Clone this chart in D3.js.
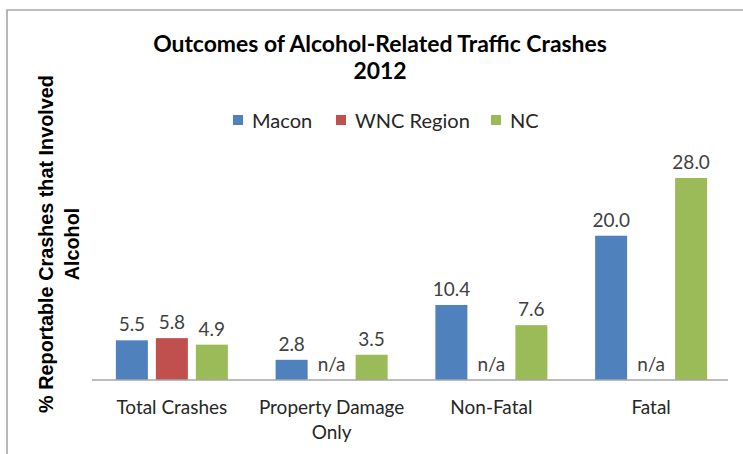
<!DOCTYPE html>
<html>
<head>
<meta charset="utf-8">
<script src="https://cdn.jsdelivr.net/npm/d3@7"></script>
<style>
  html, body { margin: 0; padding: 0; background: #fff; }
  svg { display: block; }
</style>
</head>
<body>
<svg id="chart" width="743" height="454"></svg>
<script>
// ---- data ----
const categories = ["Total Crashes", "Property Damage Only", "Non-Fatal", "Fatal"];
const seriesNames = ["Macon", "WNC Region", "NC"];
const macon = [5.5, 2.8, 10.4, 20.0];
const wncRegion = [5.8, null, null, null];
const nc = [4.9, 3.5, 7.6, 28.0];
const seriesColors = ["#4f81bd", "#c0504d", "#9bbb59"];
const titleLines = ["Outcomes of Alcohol-Related Traffic Crashes", "2012"];
const yTitleLines = ["% Reportable Crashes that Involved", "Alcohol"];
const naLabel = "n/a";

const seriesValues = [macon, wncRegion, nc];

const svg = d3.select("#chart");
const W = 743, H = 454;
const labelFont = "Lato, 'Open Sans', sans-serif";
const yTitleFont = "'Liberation Sans', Arial, sans-serif";

function fit(sel, target) {
  const w = sel.node().getComputedTextLength();
  const fs = parseFloat(sel.attr("font-size"));
  const nf = fs * target / w;
  sel.attr("font-size", nf);
  return nf;
}

// measure base sizes
const probe = svg.append("text").attr("font-family", labelFont).attr("font-size", 20).text("Total Crashes");
const labelSize = fit(probe, 111);
probe.text("WNC Region").attr("font-size", 20);
const legendSize = fit(probe, 115);
probe.remove();

// background + border
svg.append("rect").attr("x", 0).attr("y", 0).attr("width", W).attr("height", H).attr("fill", "#fff");
svg.append("path")
  .attr("d", `M7,${H} L7,10 L${W},10`)
  .attr("fill", "none").attr("stroke", "#a6a6a6").attr("stroke-width", 1.6);

// scales
const y0 = 380;
const y = d3.scaleLinear().domain([0, 30]).range([y0, y0 - 30 * (202 / 28)]);
const x = d3.scaleBand().domain(categories).range([92, 731]).paddingInner(0).paddingOuter(0);
const xs = d3.scaleBand().domain(seriesNames).range([-56, 56]).paddingInner(0.2);

// title
const t1 = svg.append("text")
  .attr("x", 380).attr("y", 52)
  .attr("text-anchor", "middle")
  .attr("font-family", labelFont).attr("font-weight", "bold")
  .attr("font-size", 22).attr("fill", "#000")
  .text(titleLines[0]);
const titleSize = fit(t1, 454);
svg.append("text")
  .attr("x", 380).attr("y", 79)
  .attr("text-anchor", "middle")
  .attr("font-family", labelFont).attr("font-weight", "bold")
  .attr("font-size", titleSize).attr("fill", "#000")
  .text(titleLines[1]);

// legend
const legendX = [233, 336, 491];
const legendG = svg.append("g");
seriesNames.forEach((name, i) => {
  legendG.append("rect")
    .attr("x", legendX[i]).attr("y", 115).attr("width", 10).attr("height", 10)
    .attr("fill", seriesColors[i]);
  legendG.append("text")
    .attr("x", legendX[i] + 19).attr("y", 128)
    .attr("font-family", labelFont).attr("font-size", legendSize)
    .attr("fill", "#262626")
    .text(name);
});

// y-axis title
const yt = svg.append("g");
const ytl1 = yt.append("text")
  .attr("transform", "translate(46,244) rotate(-90)")
  .attr("text-anchor", "middle").attr("dominant-baseline", "central")
  .attr("font-family", yTitleFont).attr("font-weight", "bold")
  .attr("font-size", 16).attr("fill", "#000")
  .text(yTitleLines[0]);
const ySize = fit(ytl1, 338);
yt.append("text")
  .attr("transform", "translate(72,244) rotate(-90)")
  .attr("text-anchor", "middle").attr("dominant-baseline", "central")
  .attr("font-family", yTitleFont).attr("font-weight", "bold")
  .attr("font-size", ySize).attr("fill", "#000")
  .text(yTitleLines[1]);

// bars
const groups = svg.append("g").selectAll("g")
  .data(categories)
  .join("g")
  .attr("transform", d => `translate(${x(d) + x.bandwidth() / 2},0)`);

groups.each(function(cat, ci) {
  const g = d3.select(this);
  seriesNames.forEach((s, si) => {
    const v = seriesValues[si][ci];
    const bx = xs(s);
    if (v != null) {
      g.append("rect")
        .attr("x", bx).attr("width", xs.bandwidth())
        .attr("y", y(v)).attr("height", y(0) - y(v))
        .attr("fill", seriesColors[si]);
    }
    g.append("text")
      .attr("x", bx + xs.bandwidth() / 2)
      .attr("y", y(v == null ? 0 : v) - 9)
      .attr("text-anchor", "middle")
      .attr("font-family", labelFont).attr("font-size", labelSize)
      .attr("fill", "#404040")
      .text(v == null ? naLabel : d3.format(".1f")(v));
  });
});

// x axis line
svg.append("line")
  .attr("x1", 92).attr("x2", 728).attr("y1", y0).attr("y2", y0)
  .attr("stroke", "#a6a6a6").attr("stroke-width", 1.6);

// category labels with wrapping
function wrapLines(text, maxW, size) {
  const tmp = svg.append("text").attr("font-family", labelFont).attr("font-size", size);
  const words = text.split(" ");
  const lines = [];
  let cur = "";
  words.forEach(w => {
    const trial = cur ? cur + " " + w : w;
    tmp.text(trial);
    if (tmp.node().getComputedTextLength() > maxW && cur) {
      lines.push(cur); cur = w;
    } else cur = trial;
  });
  if (cur) lines.push(cur);
  tmp.remove();
  return lines;
}

categories.forEach(cat => {
  const lines = wrapLines(cat, 150, labelSize);
  const t = svg.append("text")
    .attr("text-anchor", "middle")
    .attr("font-family", labelFont).attr("font-size", labelSize)
    .attr("fill", "#262626");
  lines.forEach((ln, i) => {
    t.append("tspan")
      .attr("x", x(cat) + x.bandwidth() / 2)
      .attr("y", 414 + i * 25)
      .text(ln);
  });
});
</script>
</body>
</html>
